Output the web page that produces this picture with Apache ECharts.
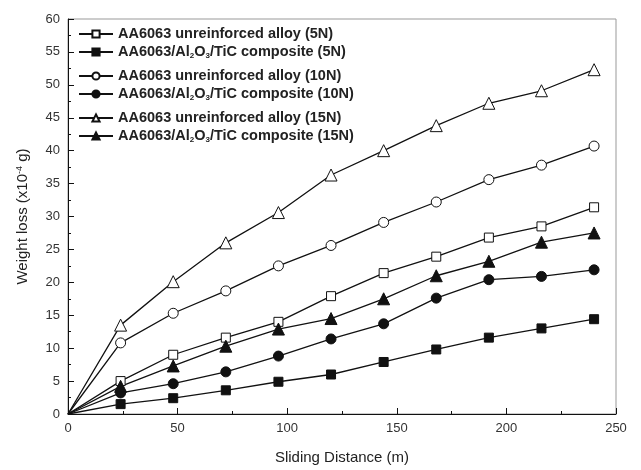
<!DOCTYPE html>
<html>
<head>
<meta charset="utf-8">
<script src="https://cdn.jsdelivr.net/npm/echarts@6/dist/echarts.min.js"></script>
<style>html,body{margin:0;padding:0;background:#fff;}#c{width:641px;height:470px;}</style>
</head>
<body>
<div id="c"></div>
<script>
var xValues = [0, 24, 48, 72, 96, 120, 144, 168, 192, 216, 240];
var unr5   = [0, 5.0, 9.0, 11.6, 14.0, 17.9, 21.4, 23.9, 26.8, 28.5, 31.4];
var comp5  = [0, 1.5, 2.4, 3.6, 4.9, 6.0, 7.9, 9.8, 11.6, 13.0, 14.4];
var unr10  = [0, 10.8, 15.3, 18.7, 22.5, 25.6, 29.1, 32.2, 35.6, 37.8, 40.7];
var comp10 = [0, 3.2, 4.6, 6.4, 8.8, 11.4, 13.7, 17.6, 20.4, 20.9, 21.9];
var unr15  = [0, 13.5, 20.1, 26.0, 30.6, 36.3, 40.0, 43.8, 47.2, 49.1, 52.3];
var comp15 = [0, 4.2, 7.3, 10.3, 12.9, 14.5, 17.5, 21.0, 23.2, 26.1, 27.5];
var seriesNames = [
  'AA6063 unreinforced alloy (5N)',
  'AA6063/Al2O3/TiC composite (5N)',
  'AA6063 unreinforced alloy (10N)',
  'AA6063/Al2O3/TiC composite (10N)',
  'AA6063 unreinforced alloy (15N)',
  'AA6063/Al2O3/TiC composite (15N)'
];
var seriesValues = [unr5, comp5, unr10, comp10, unr15, comp15];
var symbols = ['rect', 'rect', 'circle', 'circle', 'triangle', 'triangle'];
var filled = [false, true, false, true, false, true];
var symSizes = [9, 9, 10, 10, 12, 12];

var font = 'Liberation Sans, Arial, sans-serif';
var chart = echarts.init(document.getElementById('c'), null, {renderer: 'canvas'});

function pts(vals) {
  return xValues.map(function (x, i) {
    var p = {value: [x, vals[i]]};
    if (x === 0) p.symbol = 'none';
    return p;
  });
}

var series = seriesNames.map(function (n, i) {
  return {
    name: n,
    type: 'line',
    data: pts(seriesValues[i]),
    symbol: symbols[i],
    symbolSize: symSizes[i],
    showAllSymbol: true,
    lineStyle: {color: '#111', width: 1.3},
    itemStyle: {color: filled[i] ? '#111' : '#fff', borderColor: '#111', borderWidth: 1},
    emphasis: {disabled: true},
    z: 3
  };
});

function legendFor(names, top) {
  return {
    orient: 'vertical',
    left: 73,
    top: top,
    data: names,
    itemWidth: 34,
    itemHeight: 9,
    itemGap: 2,
    selectedMode: false,
    formatter: function (name) {
      return name.replace('Al2O3', 'Al{s|2}O{s|3}');
    },
    textStyle: {
      fontFamily: font,
      fontSize: 14.5,
      fontWeight: 'bold',
      color: '#222',
      lineHeight: 16,
      rich: {
        s: {fontFamily: font, fontSize: 8, fontWeight: 'bold', color: '#222', verticalAlign: 'bottom', lineHeight: 16, padding: [6, 0, 0, 0]}
      }
    }
  };
}

chart.setOption({
  animation: false,
  backgroundColor: '#fff',
  grid: {left: 68, right: 25, top: 19, bottom: 55, show: true, borderColor: '#999', borderWidth: 1},
  legend: [
    legendFor([seriesNames[0], seriesNames[1]], 21),
    legendFor([seriesNames[2], seriesNames[3]], 63),
    legendFor([seriesNames[4], seriesNames[5]], 105)
  ],
  xAxis: {
    type: 'value',
    min: 0, max: 250, interval: 50,
    name: 'Sliding Distance (m)',
    nameLocation: 'middle',
    nameGap: 36,
    nameTextStyle: {fontFamily: font, fontSize: 15, color: '#222'},
    axisLine: {show: true, lineStyle: {color: '#111', width: 1}},
    axisTick: {show: true, inside: true, length: 6, lineStyle: {color: '#111'}},
    minorTick: {show: true, splitNumber: 2, length: 3, lineStyle: {color: '#111'}},
    axisLabel: {fontFamily: font, fontSize: 13, color: '#333', margin: 8},
    splitLine: {show: false}
  },
  yAxis: {
    type: 'value',
    min: 0, max: 60, interval: 5,
    name: 'Weight loss (x10{sup|-4} g)',
    nameLocation: 'middle',
    nameRotate: 90,
    nameGap: 38,
    nameTextStyle: {
      fontFamily: font, fontSize: 15, color: '#222',
      rich: {sup: {fontFamily: font, fontSize: 9, color: '#222', verticalAlign: 'top', padding: [0, 0, 6, 0]}}
    },
    axisLine: {show: true, lineStyle: {color: '#111', width: 1}},
    axisTick: {show: true, inside: true, length: 6, lineStyle: {color: '#111'}},
    minorTick: {show: true, splitNumber: 2, length: 3, lineStyle: {color: '#111'}},
    axisLabel: {fontFamily: font, fontSize: 13, color: '#333', margin: 8},
    splitLine: {show: false}
  },
  series: series
});
</script>
</body>
</html>
